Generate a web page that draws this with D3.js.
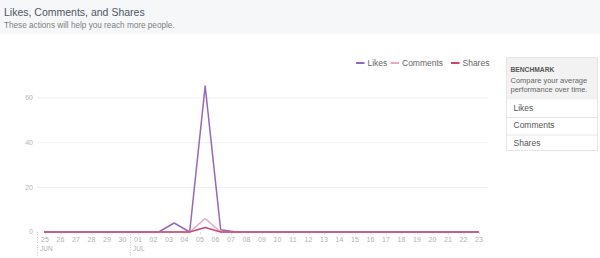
<!DOCTYPE html>
<html>
<head>
<meta charset="utf-8">
<script src="https://cdn.jsdelivr.net/npm/d3@7"></script>
<style>
  body { margin: 0; background: #fff; }
  svg { display: block; font-family: "Liberation Sans", Arial, Helvetica, sans-serif; }
  .grid line { stroke: #efefef; stroke-width: 1; }
  .ylabel { fill: #b4b4b4; font-size: 7px; }
  .xlabel { fill: #b0b0b0; font-size: 7px; }
  .month { fill: #b0b0b0; font-size: 6.5px; }
  .legend text { fill: #666; font-size: 8.5px; }
  .series { fill: none; stroke-width: 1.5; stroke-linejoin: round; }
</style>
</head>
<body>
<svg id="chart" width="600" height="258"></svg>
<script>
// days shown on the axis, 25 Jun .. 23 Jul
var dayLabels = ['25','26','27','28','29','30','01','02','03','04','05','06','07','08','09',
                 '10','11','12','13','14','15','16','17','18','19','20','21','22','23'];
var monthLabels = [{day: 0, text: 'JUN'}, {day: 6, text: 'JUL'}];
var yTicks = [0, 20, 40, 60];

// values per day, 24 Jun .. 23 Jul (first point sits just outside the window)
var likes    = [0,0,0,0,0,0,0,0,0,4,0,65,1,0,0,0,0,0,0,0,0,0,0,0,0,0,0,0,0,0];
var comments = [0,0,0,0,0,0,0,0,0,0,0,6,0,0,0,0,0,0,0,0,0,0,0,0,0,0,0,0,0,0];
var shares   = [0,0,0,0,0,0,0,0,0,0,0,2,0,0,0,0,0,0,0,0,0,0,0,0,0,0,0,0,0,0];

var seriesNames = ['Likes', 'Comments', 'Shares'];
var seriesColors = ['#9467c2', '#eaa6bf', '#c9486f'];
var benchmarkRows = ['Likes', 'Comments', 'Shares'];

var svg = d3.select('#chart');

var dayOf = function(i){ return new Date(2013, 5, 25 + i); };
// data points are stamped a few hours into each day
var pointDate = function(i){ return new Date(2013, 5, 24 + i, 8); };

var x = d3.scaleTime()
          .domain([dayOf(0), dayOf(dayLabels.length - 1)])
          .range([45, 479]);
var y = d3.scaleLinear()
          .domain([0, 60])
          .range([232, 97.3]);

// header band
svg.append('rect')
   .attr('x', 0).attr('y', 0)
   .attr('width', 600).attr('height', 34)
   .attr('fill', '#f6f7f8');
svg.append('text')
   .text('Likes, Comments, and Shares')
   .attr('x', 4).attr('y', 15.5)
   .attr('fill', '#4e5665')
   .style('font-size', '10.5px');
svg.append('text')
   .text('These actions will help you reach more people.')
   .attr('x', 4).attr('y', 27.5)
   .attr('fill', '#7f7f7f')
   .style('font-size', '8.2px');

// grid + y labels
var grid = svg.append('g').attr('class', 'grid');
grid.selectAll('line')
    .data(yTicks.filter(function(d){ return d > 0; }))
    .enter().append('line')
    .attr('x1', 37).attr('x2', 488)
    .attr('y1', function(d){ return y(d) + 0.5; })
    .attr('y2', function(d){ return y(d) + 0.5; });

svg.selectAll('.ylabel')
   .data(yTicks)
   .enter().append('text')
   .attr('class', 'ylabel')
   .attr('x', 33)
   .attr('y', function(d){ return y(d); })
   .attr('dy', '0.35em')
   .attr('text-anchor', 'end')
   .text(function(d){ return d; });

// x axis labels and ticks
svg.selectAll('.xlabel')
   .data(dayLabels)
   .enter().append('text')
   .attr('class', 'xlabel')
   .attr('x', function(d, i){ return x(dayOf(i)); })
   .attr('y', 242)
   .attr('text-anchor', 'middle')
   .text(function(d){ return d; });

svg.selectAll('.xtick')
   .data(dayLabels)
   .enter().append('line')
   .attr('class', 'xtick')
   .attr('x1', function(d, i){ return x(dayOf(i)) + 0.5; })
   .attr('x2', function(d, i){ return x(dayOf(i)) + 0.5; })
   .attr('y1', 232).attr('y2', 234.5)
   .attr('stroke', '#dcdcdc');

svg.selectAll('.monthsep')
   .data(monthLabels)
   .enter().append('line')
   .attr('class', 'monthsep')
   .attr('x1', function(d){ return Math.round(x(dayOf(d.day)) - 8) + 0.5; })
   .attr('x2', function(d){ return Math.round(x(dayOf(d.day)) - 8) + 0.5; })
   .attr('y1', 232).attr('y2', 256)
   .attr('stroke', '#c8c8c8')
   .attr('stroke-dasharray', '1,1.5');

svg.selectAll('.month')
   .data(monthLabels)
   .enter().append('text')
   .attr('class', 'month')
   .attr('x', function(d){ return x(dayOf(d.day)) - 5; })
   .attr('y', 251)
   .text(function(d){ return d.text; });

// series lines, clipped to the visible date window
svg.append('clipPath')
   .attr('id', 'plot-clip')
   .append('rect')
   .attr('x', x.range()[0] - 1)
   .attr('y', 60)
   .attr('width', x.range()[1] - x.range()[0] + 1)
   .attr('height', 180);

var line = d3.line()
             .x(function(d, i){ return x(pointDate(i)); })
             .y(function(d){ return y(d); });

var plot = svg.append('g').attr('clip-path', 'url(#plot-clip)');
[likes, comments, shares].forEach(function(values, k){
  plot.append('path')
      .attr('class', 'series')
      .attr('d', line(values))
      .attr('stroke', seriesColors[k]);
});
// shares drawn last, sits on top along zero

// legend
var legendX = [356, 390.5, 451];
var legend = svg.append('g').attr('class', 'legend');
seriesNames.forEach(function(name, k){
  legend.append('line')
        .attr('x1', legendX[k]).attr('x2', legendX[k] + 8.5)
        .attr('y1', 63).attr('y2', 63)
        .attr('stroke', seriesColors[k])
        .attr('stroke-width', 2);
  legend.append('text')
        .attr('x', legendX[k] + 11.5)
        .attr('y', 63)
        .attr('dy', '0.35em')
        .text(name);
});

// benchmark panel
var panel = svg.append('g').attr('transform', 'translate(506, 57)');
panel.append('rect')
     .attr('x', 0.5).attr('y', 0.5)
     .attr('width', 91).attr('height', 93)
     .attr('fill', '#fff')
     .attr('stroke', '#e6e6e6');
panel.append('rect')
     .attr('x', 1).attr('y', 1)
     .attr('width', 90).attr('height', 41.5)
     .attr('fill', '#f2f2f2');
panel.append('text')
     .text('BENCHMARK')
     .attr('x', 4.5).attr('y', 14.5)
     .attr('fill', '#555')
     .style('font-size', '6.7px')
     .style('font-weight', 'bold');
panel.append('text')
     .text('Compare your average')
     .attr('x', 4.5).attr('y', 25.5)
     .attr('fill', '#666')
     .style('font-size', '7.5px');
panel.append('text')
     .text('performance over time.')
     .attr('x', 4.5).attr('y', 35)
     .attr('fill', '#666')
     .style('font-size', '7.5px');

benchmarkRows.forEach(function(name, i){
  var top = 42.5 + i * 17.5;
  if (i > 0) {
    panel.append('line')
         .attr('x1', 1).attr('x2', 91)
         .attr('y1', top + 0.5).attr('y2', top + 0.5)
         .attr('stroke', '#e6e6e6');
  }
  panel.append('text')
       .text(name)
       .attr('x', 7.5)
       .attr('y', top + 8.5)
       .attr('dy', '0.35em')
       .attr('fill', '#555')
       .style('font-size', '8.5px');
});
</script>
</body>
</html>
